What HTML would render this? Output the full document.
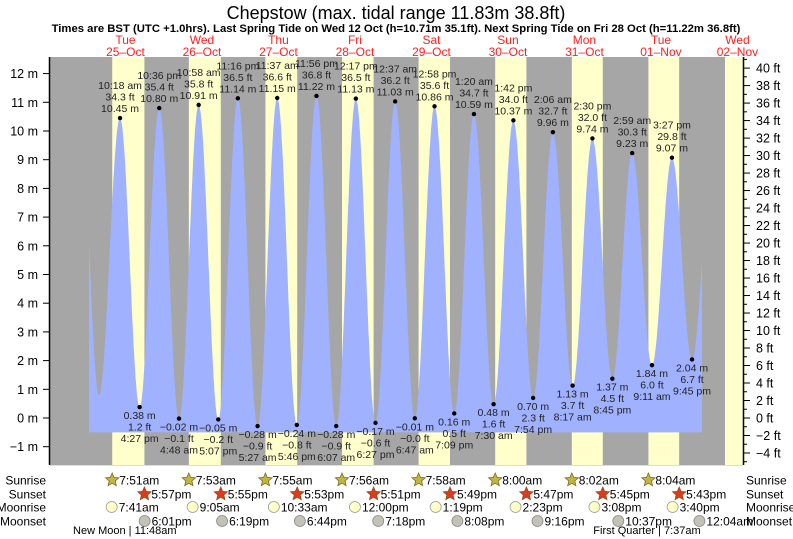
<!DOCTYPE html>
<html><head><meta charset="utf-8"><style>
body{margin:0;background:#fff;}
svg{display:block;font-family:"Liberation Sans",Arial,sans-serif;}
</style></head><body>
<svg id="chart" width="793" height="539" viewBox="0 0 793 539"></svg>
<script>
// ---- data ----
const dayLabels = ["Tue","Wed","Thu","Fri","Sat","Sun","Mon","Tue","Wed"];
const dateLabels = ["25\u2013Oct","26\u2013Oct","27\u2013Oct","28\u2013Oct","29\u2013Oct","30\u2013Oct","31\u2013Oct","01\u2013Nov","02\u2013Nov"];
// tide extremes: day index (0 = 25 Oct), time "HH:MM" (24h), height (m), labeled
const tideDays   = [-1, 0, 0, 0, 1, 1, 1, 2, 2, 2, 3, 3, 3, 4, 4, 4, 5, 5, 5, 6, 6, 6, 7, 7, 7, 8];
const tideTimes  = ["21:55","03:40","10:18","16:27","22:36","04:48","10:58","17:07","23:16","05:27","11:37","17:46","23:56","06:07","12:17","18:27","00:37","06:47","12:58","19:09","01:20","07:30","13:42","19:54","02:06","08:17","14:30","20:45","02:59","09:11","15:27","21:45","04:05"];
const tideHeights= [10.2, 0.8, 10.45, 0.38, 10.80, -0.02, 10.91, -0.05, 11.14, -0.28, 11.15, -0.24, 11.22, -0.28, 11.13, -0.17, 11.03, -0.01, 10.86, 0.16, 10.59, 0.48, 10.37, 0.70, 9.96, 1.13, 9.74, 1.37, 9.23, 1.84, 9.07, 2.04, 9.0];
const tideDayIdx = [-1, 0, 0, 0, 0, 1, 1, 1, 1, 2, 2, 2, 2, 3, 3, 3, 4, 4, 4, 4, 5, 5, 5, 5, 6, 6, 6, 6, 7, 7, 7, 7, 8];
const tideLabeled= [0,0,1,1,1,1,1,1,1,1,1,1,1,1,1,1,1,1,1,1,1,1,1,1,1,1,1,1,1,1,1,1,0];
const sunrise = ["7:51","7:53","7:55","7:56","7:58","8:00","8:02","8:04","8:06"];
const sunset  = ["17:57","17:55","17:53","17:51","17:49","17:47","17:45","17:43","17:41"];
const moonriseDay = [0,1,2,3,4,5,6,7];
const moonrise = ["7:41","9:05","10:33","12:00","13:19","14:23","15:08","15:40"];
const moonsetDay = [0,1,2,3,4,5,6,8];
const moonset = ["18:01","18:19","18:44","19:18","20:08","21:16","22:37","00:04"];
const mTicks = [-1,0,1,2,3,4,5,6,7,8,9,10,11,12];
const ftTicks = [-4,-2,0,2,4,6,8,10,12,14,16,18,20,22,24,26,28,30,32,34,36,38,40];

// ---- geometry ----
const NS="http://www.w3.org/2000/svg";
const svg=document.getElementById('chart');
const X0=87.2, PXH=3.1875, Y0=418, PXM=28.7;
const PL=50, PR=743, PT=57, PB=465;
const hx=h=>X0+h*PXH;
const my=m=>Y0-m*PXM;
const fy=f=>my(f/3.28084);
const toH=(d,t)=>{const p=t.split(':');return d*24+(+p[0])+(+p[1])/60;};
function el(tag,attrs,parent){const e=document.createElementNS(NS,tag);for(const k in attrs)e.setAttribute(k,attrs[k]);(parent||svg).appendChild(e);return e;}
function txt(x,y,s,attrs,parent){const e=el('text',Object.assign({x:x,y:y},attrs||{}),parent);e.textContent=s;return e;}
function ampm(t){let [h,m]=t.split(':').map(Number);const s=h>=12?'pm':'am';let hh=h%12;if(hh===0)hh=12;return hh+':'+String(m).padStart(2,'0')+' '+s;}
function ampm2(t){return ampm(t).replace(' ','');}
const fmtNeg=s=>s.replace('-','\u2212');

// title
let t=txt(396,19,"Chepstow (max. tidal range 11.83m 38.8ft)",{'text-anchor':'middle','font-size':18,fill:'#000'});

t=txt(396,32,"Times are BST (UTC +1.0hrs). Last Spring Tide on Wed 12 Oct (h=10.71m 35.1ft). Next Spring Tide on Fri 28 Oct (h=11.22m 36.8ft)",{'text-anchor':'middle','font-size':11.3,'font-weight':'bold',fill:'#000'});


// background night
const bg=el('rect',{x:PL,y:PT,width:PR-PL,height:PB-PT,fill:'#a6a6a6'});

// daylight bands
for(let d=0;d<sunrise.length;d++){
  const a=hx(toH(d,sunrise[d])),b=Math.min(PR,hx(toH(d,sunset[d])));
  if(a>=PR)continue;
  const r=el('rect',{x:a,y:PT,width:b-a,height:PB-PT,fill:'#ffffcc'});
  
}
// day labels
for(let d=0;d<dayLabels.length;d++){
  const x=hx(d*24+12);
  const g=el('g',{});
  
  txt(x,44,dayLabels[d],{'text-anchor':'middle','font-size':12,fill:'#ff2020'},g);
  txt(x,56,dateLabels[d],{'text-anchor':'middle','font-size':12,fill:'#ff2020'},g);
}
// tide curve
const hs=tideTimes.map((s,i)=>toH(tideDayIdx[i],s));
function level(h){
  for(let i=0;i<hs.length-1;i++){
    if(h>=hs[i]&&h<=hs[i+1]){const f=(h-hs[i])/(hs[i+1]-hs[i]);return tideHeights[i]+(tideHeights[i+1]-tideHeights[i])*(1-Math.cos(Math.PI*f))/2;}
  }
  return tideHeights[0];
}
const hStart=(89-X0)/PXH, hEnd=(702-X0)/PXH, base=my(-0.5);
let d='M'+hx(hStart).toFixed(1)+','+base;
for(let h=hStart;h<=hEnd;h+=0.1)d+=' L'+hx(h).toFixed(1)+','+my(level(h)).toFixed(1);
d+=' L'+hx(hEnd).toFixed(1)+','+my(level(hEnd)).toFixed(1)+' L'+hx(hEnd).toFixed(1)+','+base+' Z';
const area=el('path',{d:d,fill:'#9fb1ff'});

// extremes
for(let i=0;i<hs.length;i++){
  if(!tideLabeled[i])continue;
  const x=hx(hs[i]),y=my(tideHeights[i]);
  const hi=i>0&&tideHeights[i]>tideHeights[i-1];
  const g=el('g',{});
  
  el('circle',{cx:x,cy:y,r:2.2,fill:'#000'},g);
  const m=fmtNeg(tideHeights[i].toFixed(2))+' m';
  const ft=fmtNeg((tideHeights[i]*3.28084).toFixed(1))+' ft';
  const tm=ampm(tideTimes[i]);
  const a={'text-anchor':'middle','font-size':10.5,fill:'#222'};
  if(hi){txt(x,y-6,m,a,g);txt(x,y-17.5,ft,a,g);txt(x,y-29,tm,a,g);}
  else{txt(x,y+12,m,a,g);txt(x,y+23.5,ft,a,g);txt(x,y+35,tm,a,g);}
}
// left axis
const la=el('g',{});
el('line',{x1:PL-0.5,y1:PT,x2:PL-0.5,y2:PB,stroke:'#000','stroke-width':1.5},la);
mTicks.forEach(v=>{const y=my(v);el('line',{x1:PL-7,y1:y,x2:PL,y2:y,stroke:'#000'},la);txt(PL-12,y+4.5,fmtNeg(String(v))+' m',{'text-anchor':'end','font-size':12.5,fill:'#000'},la);});
// right axis
const ra=el('g',{});
el('line',{x1:PR+0.5,y1:PT,x2:PR+0.5,y2:PB,stroke:'#000','stroke-width':1.5},ra);
for(let f=-5;f<=41;f++){const y=fy(f);if(y<PT||y>PB)continue;el('line',{x1:PR,y1:y,x2:PR+(f%2===0?7:4),y2:y,stroke:'#000'},ra);}
ftTicks.forEach(v=>{const y=fy(v);txt(PR+13,y+4.5,fmtNeg(String(v))+' ft',{'font-size':12.5,fill:'#000'},ra);});
// bottom line
el('line',{x1:PL,y1:PB+0.5,x2:PR,y2:PB+0.5,stroke:'#ddd'});

// sun/moon rows
const rowY={sr:480,ss:494,mr:507,ms:521};
const rowNames=[["Sunrise",rowY.sr],["Sunset",rowY.ss],["Moonrise",rowY.mr],["Moonset",rowY.ms]];
rowNames.forEach(([n,y])=>{
  let a=txt(46,y+4.5,n,{'text-anchor':'end','font-size':12,fill:'#000'});
  a=txt(746,y+4.5,n,{'font-size':12,fill:'#000'});
});
function star(cx,cy,fill){let p='';for(let k=0;k<10;k++){const r=k%2?3.2:7,ang=-Math.PI/2+k*Math.PI/5;p+=(k?'L':'M')+(cx+r*Math.cos(ang)).toFixed(1)+','+(cy+r*Math.sin(ang)).toFixed(1);}return p+'Z';}
for(let i=0;i<8;i++){
  let x=hx(toH(i,sunrise[i]));
  let g=el('g',{});
  el('path',{d:star(x,rowY.sr,'#c2b640'),fill:'#c2b640',stroke:'#7a6a20','stroke-width':0.8},g);
  txt(x+7,rowY.sr+4.5,sunrise[i]+'am',{'font-size':12,fill:'#000'},g);
  x=hx(toH(i,sunset[i]));
  g=el('g',{});
  el('path',{d:star(x,rowY.ss),fill:'#e03a1c',stroke:'#8a5020','stroke-width':0.8},g);
  txt(x+7,rowY.ss+4.5,ampm2(sunset[i]),{'font-size':12,fill:'#000'},g);
}
for(let i=0;i<moonrise.length;i++){
  const x=hx(toH(moonriseDay[i],moonrise[i]));
  const g=el('g',{});
  el('circle',{cx:x,cy:rowY.mr,r:5.5,fill:'#ffffc8',stroke:'#999','stroke-width':0.8},g);
  txt(x+7,rowY.mr+4.5,ampm2(moonrise[i]),{'font-size':12,fill:'#000'},g);
}
for(let i=0;i<moonset.length;i++){
  const x=hx(toH(moonsetDay[i],moonset[i]));
  const g=el('g',{});
  el('circle',{cx:x,cy:rowY.ms,r:5.5,fill:'#c4c2b4',stroke:'#888','stroke-width':0.8},g);
  txt(x+7,rowY.ms+4.5,ampm2(moonset[i]),{'font-size':12,fill:'#000'},g);
}
let mp=txt(hx(11.8),534,"New Moon | 11:48am",{'text-anchor':'middle','font-size':11,fill:'#000'});

mp=txt(hx(toH(7,"7:37")),534,"First Quarter | 7:37am",{'text-anchor':'middle','font-size':11,fill:'#000'});

</script>
</body></html>
